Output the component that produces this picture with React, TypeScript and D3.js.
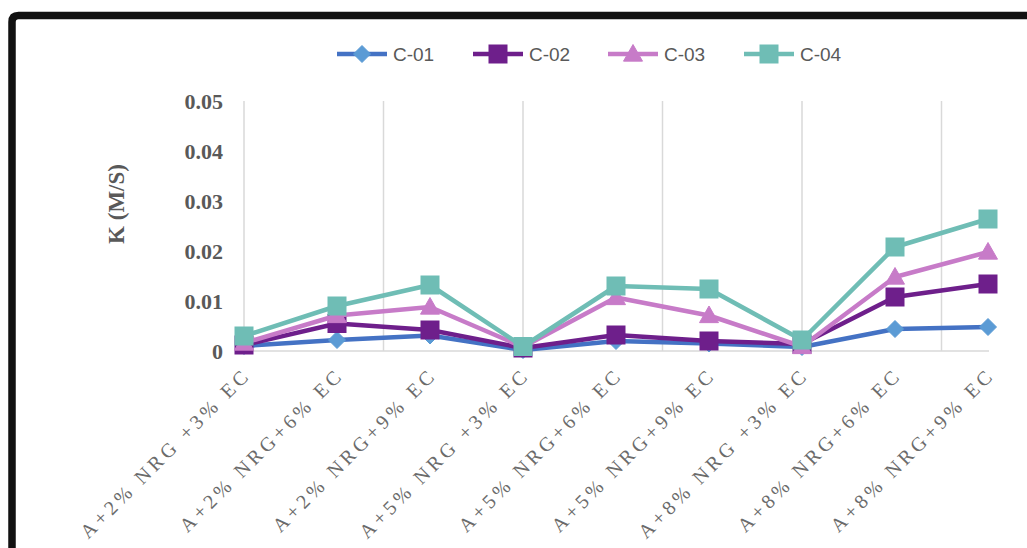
import React from "react";
import * as d3 from "d3";

const categories = [
  "A+2% NRG +3% EC",
  "A+2% NRG+6% EC",
  "A+2% NRG+9% EC",
  "A+5% NRG +3% EC",
  "A+5% NRG+6% EC",
  "A+5% NRG+9% EC",
  "A+8% NRG +3% EC",
  "A+8% NRG+6% EC",
  "A+8% NRG+9% EC",
];

const c01 = [0.001, 0.0022, 0.0031, 0.0002, 0.002, 0.0015, 0.0008, 0.0044, 0.0048];
const c02 = [0.0012, 0.0055, 0.0042, 0.0006, 0.0032, 0.002, 0.0014, 0.0108, 0.0134];
const c03 = [0.0016, 0.0071, 0.0088, 0.0008, 0.0107, 0.0071, 0.0009, 0.0148, 0.0198];
const c04 = [0.003, 0.009, 0.0132, 0.0009, 0.013, 0.0124, 0.0022, 0.0208, 0.0264];

const seriesNames = ["C-01", "C-02", "C-03", "C-04"];
const yTicks = [0, 0.01, 0.02, 0.03, 0.04, 0.05];
const gridSteps = [0, 1.5, 3, 4.5, 6, 7.5];

const series = [
  { name: seriesNames[0], values: c01, line: "#4472C4", fill: "#5B9BD5", shape: "diamond" },
  { name: seriesNames[1], values: c02, line: "#6E1F8B", fill: "#6E1F8B", shape: "square" },
  { name: seriesNames[2], values: c03, line: "#C77BC8", fill: "#C77BC8", shape: "triangle" },
  { name: seriesNames[3], values: c04, line: "#6FBDB5", fill: "#6FBDB5", shape: "square" },
];

const legendX = [337, 473, 608, 744];

function Marker({ shape, x, y, fill, stroke }: any) {
  if (shape === "diamond") {
    const r = 8.5;
    return (
      <path
        d={`M${x},${y - r}L${x + r},${y}L${x},${y + r}L${x - r},${y}Z`}
        fill={fill}
        stroke={stroke}
        strokeWidth={1}
      />
    );
  }
  if (shape === "triangle") {
    const s = 9.5;
    return (
      <path
        d={`M${x},${y - s}L${x + s},${y + s * 0.75}L${x - s},${y + s * 0.75}Z`}
        fill={fill}
        stroke={stroke}
        strokeWidth={1}
      />
    );
  }
  const h = 9;
  return <rect x={x - h} y={y - h} width={2 * h} height={2 * h} fill={fill} stroke={stroke} strokeWidth={1} />;
}

export default function App() {
  const W = 1027;
  const H = 548;
  const x = d3.scalePoint<string>().domain(categories).range([244, 988]);
  const xi = d3.scaleLinear().domain([0, categories.length - 1]).range([244, 988]);
  const y = d3.scaleLinear().domain([0, 0.05]).range([351, 101]);
  const line = d3
    .line<number>()
    .x((_, i) => x(categories[i]) as number)
    .y((d) => y(d));

  return (
    <svg
      width={W}
      height={H}
      style={{ position: "absolute", left: 0, top: 0, background: "#fff" }}
    >
      <rect x={0} y={0} width={W} height={H} fill="#fff" />
      {/* frame */}
      <path
        d={`M12,${H + 20} L12,22 Q12,15.5 18.5,15.5 L${W + 20},15.5`}
        fill="none"
        stroke="#111"
        strokeWidth={7.5}
      />

      {/* gridlines */}
      {gridSteps.map((g) => (
        <line key={g} x1={xi(g)} x2={xi(g)} y1={y(0.05)} y2={y(0)} stroke="#d9d9d9" strokeWidth={1.5} />
      ))}
      <line x1={244} x2={989} y1={y(0)} y2={y(0)} stroke="#d9d9d9" strokeWidth={1.5} />

      {/* y ticks */}
      {yTicks.map((t) => (
        <text
          key={t}
          x={223}
          y={y(t)}
          dy="0.35em"
          textAnchor="end"
          fontFamily="'Liberation Serif', 'Times New Roman', serif"
          fontWeight="bold"
          fontSize={22}
          fill="#595959"
        >
          {t === 0 ? "0" : d3.format(".2f")(t)}
        </text>
      ))}

      <text
        transform={`translate(124,204) rotate(-90)`}
        textAnchor="middle"
        fontFamily="'Liberation Serif', 'Times New Roman', serif"
        fontWeight="bold"
        fontSize={23}
        fill="#595959"
      >
        K (M/S)
      </text>

      {/* x labels */}
      {categories.map((c) => (
        <text
          key={c}
          transform={`translate(${(x(c) as number) + 8},376) rotate(-45)`}
          textAnchor="end"
          fontFamily="'Liberation Serif', 'Times New Roman', serif"
          fontSize={20}
          letterSpacing={3.9}
          fill="#6b6b6b"
        >
          {c}
        </text>
      ))}

      {/* series */}
      {series.map((s) => (
        <g key={s.name}>
          <path d={line(s.values) || ""} fill="none" stroke={s.line} strokeWidth={4.5} strokeLinejoin="round" />
          {s.values.map((v, i) => (
            <Marker
              key={i}
              shape={s.shape}
              x={x(categories[i])}
              y={y(v)}
              fill={s.fill}
              stroke={s.shape === "diamond" ? s.fill : s.line}
            />
          ))}
        </g>
      ))}

      {/* legend */}
      {series.map((s, k) => (
        <g key={s.name}>
          <line x1={legendX[k]} x2={legendX[k] + 50} y1={54} y2={54} stroke={s.line} strokeWidth={4.5} />
          <Marker shape={s.shape} x={legendX[k] + 25} y={54} fill={s.fill} stroke={s.shape === "diamond" ? s.fill : s.line} />
          <text
            x={legendX[k] + 56}
            y={61}
            fontFamily="'Liberation Sans', Arial, sans-serif"
            fontSize={19}
            fill="#595959"
          >
            {s.name}
          </text>
        </g>
      ))}
    </svg>
  );
}
